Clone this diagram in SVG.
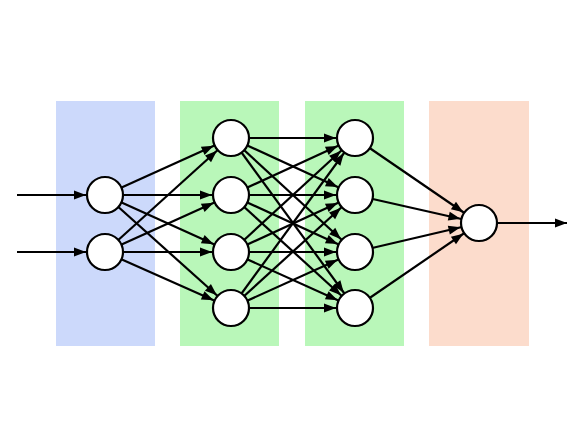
<svg xmlns="http://www.w3.org/2000/svg" width="578" height="437" viewBox="0 0 578 437">
<style>
.e{stroke:#000;stroke-width:2.2;fill:none;marker-end:url(#h)}
.o{stroke:#000;stroke-width:2.2;fill:none;marker-end:url(#h0)}
.n{fill:#fff;stroke:#000;stroke-width:2.2}
</style>
<defs>
<marker id="h" markerUnits="userSpaceOnUse" orient="auto" refX="19" refY="0" markerWidth="30" markerHeight="10" overflow="visible"><path d="M-12,-4.5 L0,0 L-12,4.5 z" fill="#000"/></marker>
<marker id="h0" markerUnits="userSpaceOnUse" orient="auto" refX="0" refY="0" markerWidth="12" markerHeight="10" overflow="visible"><path d="M-12,-4.5 L0,0 L-12,4.5 z" fill="#000"/></marker>
</defs>
<rect width="578" height="437" fill="#fff"/>
<g id="layers">
<rect x="56" y="101" width="99" height="245" fill="#ccd9fb"/>
<rect x="180" y="101" width="99" height="245" fill="#b9f7b9"/>
<rect x="305" y="101" width="99" height="245" fill="#b9f7b9"/>
<rect x="429" y="101" width="100" height="245" fill="#fcdccc"/>
</g>
<g id="connectors">
<line class="e" x1="17" y1="195" x2="105" y2="195"/>
<line class="e" x1="17" y1="252" x2="105" y2="252"/>
<line class="e" x1="105" y1="195" x2="231" y2="138"/>
<line class="e" x1="105" y1="195" x2="231" y2="195"/>
<line class="e" x1="105" y1="195" x2="231" y2="252"/>
<line class="e" x1="105" y1="195" x2="231" y2="308"/>
<line class="e" x1="105" y1="252" x2="231" y2="138"/>
<line class="e" x1="105" y1="252" x2="231" y2="195"/>
<line class="e" x1="105" y1="252" x2="231" y2="252"/>
<line class="e" x1="105" y1="252" x2="231" y2="308"/>
<line class="e" x1="231" y1="138" x2="355" y2="138"/>
<line class="e" x1="231" y1="138" x2="355" y2="195"/>
<line class="e" x1="231" y1="138" x2="355" y2="252"/>
<line class="e" x1="231" y1="138" x2="355" y2="308"/>
<line class="e" x1="231" y1="195" x2="355" y2="138"/>
<line class="e" x1="231" y1="195" x2="355" y2="195"/>
<line class="e" x1="231" y1="195" x2="355" y2="252"/>
<line class="e" x1="231" y1="195" x2="355" y2="308"/>
<line class="e" x1="231" y1="252" x2="355" y2="138"/>
<line class="e" x1="231" y1="252" x2="355" y2="195"/>
<line class="e" x1="231" y1="252" x2="355" y2="252"/>
<line class="e" x1="231" y1="252" x2="355" y2="308"/>
<line class="e" x1="231" y1="308" x2="355" y2="138"/>
<line class="e" x1="231" y1="308" x2="355" y2="195"/>
<line class="e" x1="231" y1="308" x2="355" y2="252"/>
<line class="e" x1="231" y1="308" x2="355" y2="308"/>
<line class="e" x1="355" y1="138" x2="479" y2="223"/>
<line class="e" x1="355" y1="195" x2="479" y2="223"/>
<line class="e" x1="355" y1="252" x2="479" y2="223"/>
<line class="e" x1="355" y1="308" x2="479" y2="223"/>
<line class="o" x1="497" y1="223" x2="567" y2="223"/>
</g>
<g id="in1"><circle class="n" cx="105" cy="195" r="18"/></g>
<g id="in2"><circle class="n" cx="105" cy="252" r="18"/></g>
<g id="h1a"><circle class="n" cx="231" cy="138" r="18"/></g>
<g id="h1b"><circle class="n" cx="231" cy="195" r="18"/></g>
<g id="h1c"><circle class="n" cx="231" cy="252" r="18"/></g>
<g id="h1d"><circle class="n" cx="231" cy="308" r="18"/></g>
<g id="h2a"><circle class="n" cx="355" cy="138" r="18"/></g>
<g id="h2b"><circle class="n" cx="355" cy="195" r="18"/></g>
<g id="h2c"><circle class="n" cx="355" cy="252" r="18"/></g>
<g id="h2d"><circle class="n" cx="355" cy="308" r="18"/></g>
<g id="out"><circle class="n" cx="479" cy="223" r="18"/></g>
</svg>
